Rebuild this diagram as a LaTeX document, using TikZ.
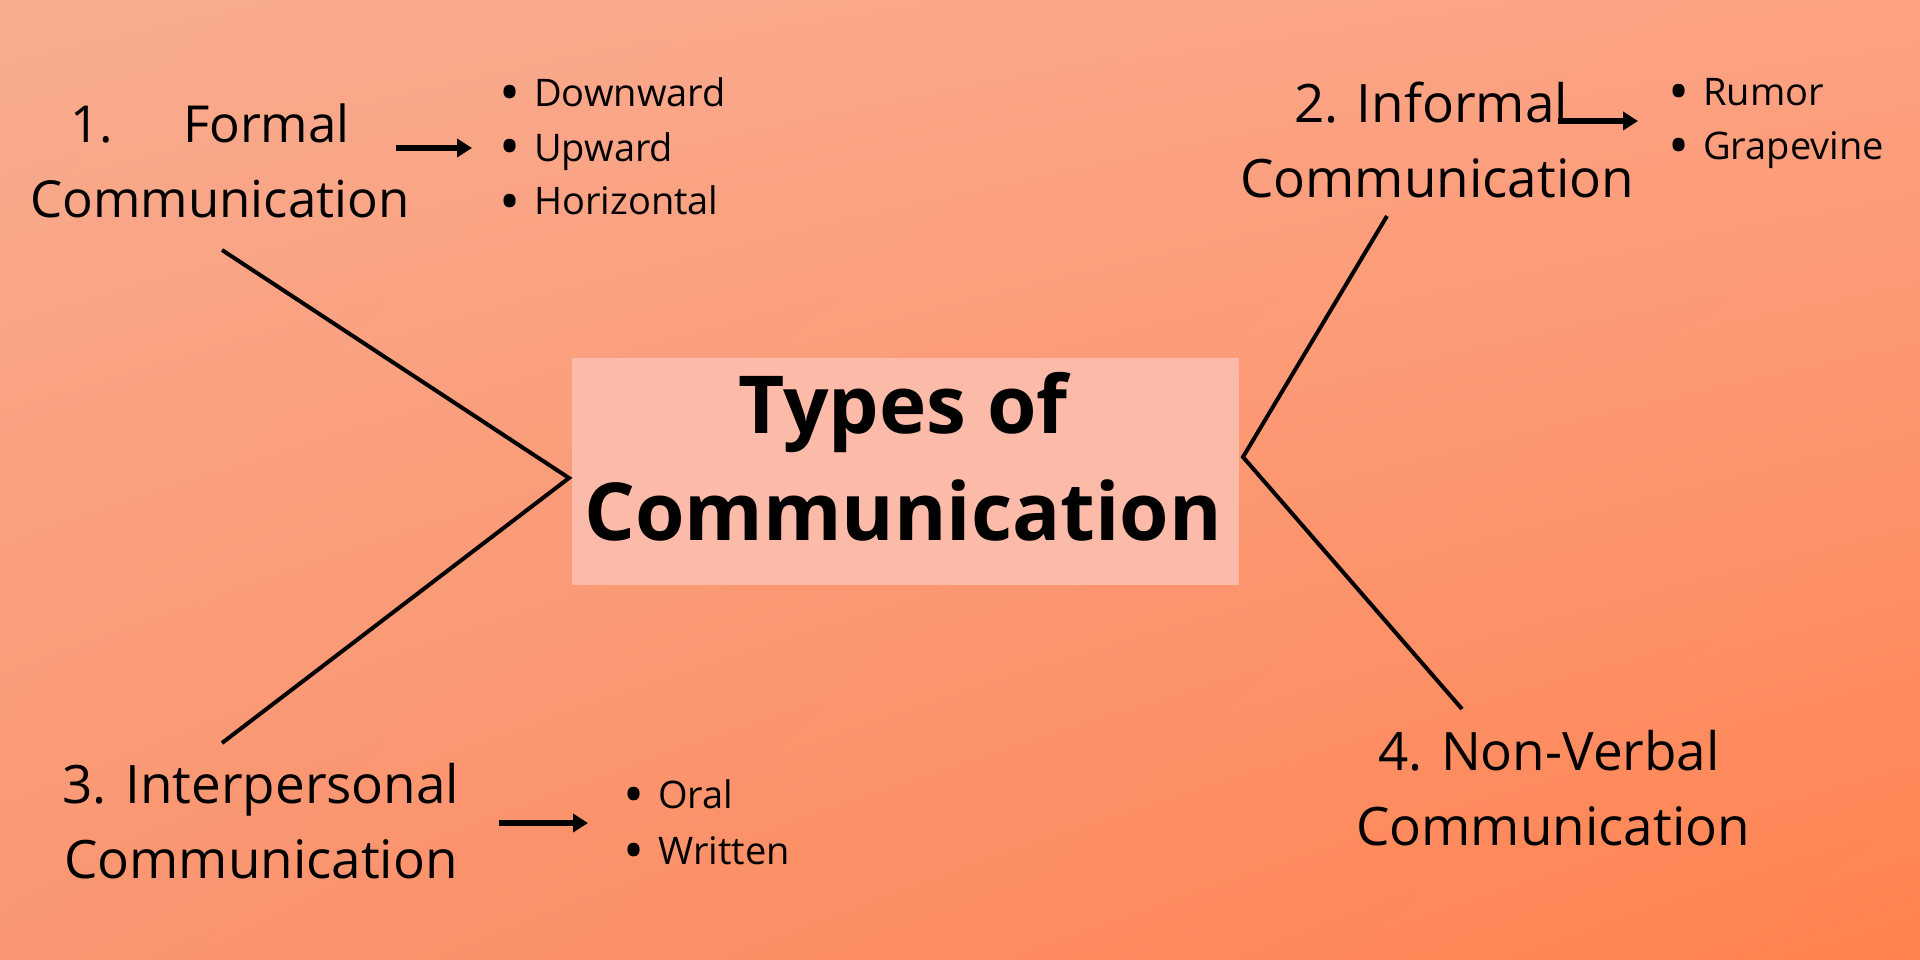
\documentclass[tikz,border=0pt]{standalone}
\usepackage{fontspec}
\setmainfont{Open Sans}
\usetikzlibrary{positioning,calc,arrows.meta,shadings}

\definecolor{bgtl}{HTML}{F8AC90}
\definecolor{bgtr}{HTML}{FCA283}
\definecolor{bgbl}{HTML}{FA9672}
\definecolor{bgbr}{HTML}{FF824F}
\definecolor{boxbg}{HTML}{FCBBA8}

\newcommand\bul{\raisebox{-6pt}{\fontsize{56}{54}\selectfont •}\hspace{14pt}}

\tikzset{
  lbl/.style={align=center, inner sep=0pt, anchor=base, font=\fontsize{53}{75}\selectfont},
  lst/.style={align=left, inner sep=0pt, anchor=base west, font=\fontsize{38}{54}\selectfont},
  arr/.style={-{Triangle[length=15pt,width=18pt]}, line width=6pt},
  spoke/.style={-, line width=4pt}
}

\begin{document}
\begin{tikzpicture}[x=1pt,y=-1pt]
\shade[upper left=bgtl, upper right=bgtr, lower left=bgbl, lower right=bgbr] (0,0) rectangle (1920,960);
\useasboundingbox (0,0) rectangle (1920,960);

% TITLE

\node[fill=boxbg, minimum width=667pt, minimum height=227pt, inner sep=0pt] (box) at (905.5,471.5) {};
\node[lbl, font=\fontsize{80}{107}\selectfont\bfseries] (root) at (903,540) {Types of\\Communication};

% BRANCHES

\node[lbl, font=\fontsize{51}{75}\selectfont] (br1) at (220,218) {1.\hspace{70pt}Formal\hspace*{20pt}\\Communication};
\node[lbl] (br2) at (1437,198) {2. Informal\hspace*{12pt}\\Communication};
\node[lbl] (br3) at (261,878)  {3. Interpersonal\\Communication};
\node[lbl] (br4) at (1553,845) {4. Non-Verbal\hspace*{8pt}\\Communication};

\coordinate (lv) at (569,478);
\coordinate (rv) at (1243,457);
\coordinate (s1) at (222,250);
\coordinate (s2) at (1387,216);
\coordinate (s3) at (222,743);
\coordinate (s4) at (1462,709);

\draw[spoke] (s1) -- (lv) -- (s3);
\draw[spoke] (s2) -- (rv) -- (s4);

% LISTS

\node[lst] (li1) at (499,215)  {\bul Downward\\\bul Upward\\\bul Horizontal};
\node[lst] (li2) at (1668,160) {\bul Rumor\\\bul Grapevine};
\node[lst, font=\fontsize{38}{56}\selectfont] (li3) at (623,864) {\bul Oral\\\bul Written};

\coordinate (a1s) at (396,148);
\coordinate (a1e) at (472,148);
\coordinate (a2s) at (1558,121);
\coordinate (a2e) at (1638,121);
\coordinate (a3s) at (499,823);
\coordinate (a3e) at (588,823);

\draw[arr] (a1s) -- (a1e);
\draw[arr] (a2s) -- (a2e);
\draw[arr] (a3s) -- (a3e);

\end{tikzpicture}
\end{document}
